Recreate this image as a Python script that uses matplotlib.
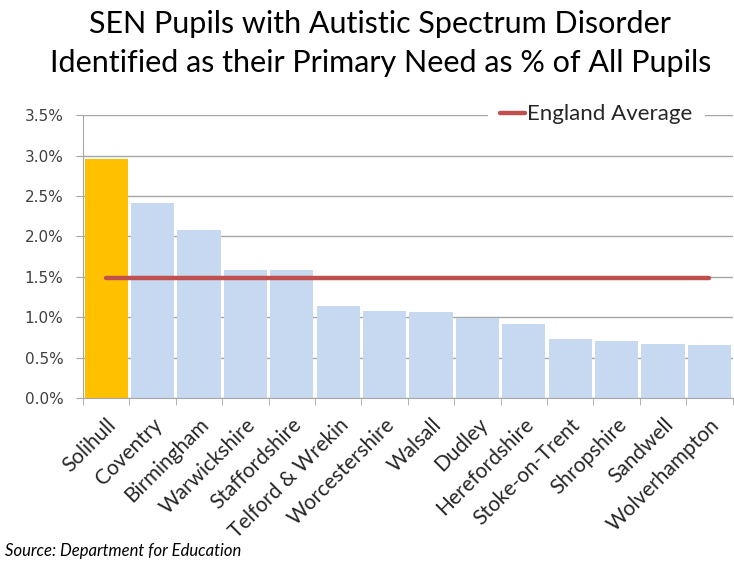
import numpy as np
import matplotlib.pyplot as plt
from matplotlib.ticker import FuncFormatter, FixedLocator

authorities = ['Solihull', 'Coventry', 'Birmingham', 'Warwickshire', 'Staffordshire',
               'Telford & Wrekin', 'Worcestershire', 'Walsall', 'Dudley', 'Herefordshire',
               'Stoke-on-Trent', 'Shropshire', 'Sandwell', 'Wolverhampton']
asd_pct = [2.96, 2.41, 2.08, 1.58, 1.58, 1.14, 1.08, 1.06, 0.99, 0.92, 0.73, 0.71, 0.67, 0.65]
england_avg = 1.48

bar_colors = ['#FFC000'] + ['#C6D9F1'] * (len(authorities) - 1)

fig = plt.figure(figsize=(7.34, 5.62), dpi=100)
ax = fig.add_axes([0.113, 0.292, 0.885, 0.503])

x = np.arange(len(authorities))
ax.bar(x, asd_pct, width=0.93, color=bar_colors, zorder=2)
ax.plot(x, [england_avg] * len(x), color='#C0504D', lw=3.2, solid_capstyle='round',
        label='England Average', zorder=3)

ax.set_xlim(-0.5, len(x) - 0.5)
ax.set_ylim(0, 3.5)
ax.set_yticks(np.arange(0, 3.51, 0.5))
ax.yaxis.set_major_formatter(FuncFormatter(lambda v, p: f'{v:.1f}%'))
ax.grid(axis='y', color='#A6A6A6', lw=1, zorder=0)

ax.set_xticks(x)
ax.set_xticklabels(authorities, rotation=45, ha='right', rotation_mode='anchor',
                   fontsize=15, family='Lato', color='#262626')
ax.tick_params(axis='x', length=0, pad=12)
ax.xaxis.set_minor_locator(FixedLocator(np.arange(-0.5, len(x), 1)))
ax.tick_params(axis='x', which='minor', length=5, color='#A6A6A6')
ax.tick_params(axis='y', length=5, pad=9, color='#A6A6A6', labelsize=11, labelcolor='#404040')

for s in ['top', 'right']:
    ax.spines[s].set_visible(False)
for s in ['left', 'bottom']:
    ax.spines[s].set_color('#A6A6A6')

leg = ax.legend(loc='center', bbox_to_anchor=(0.79, 1.003), frameon=True,
                fancybox=False, edgecolor='white', framealpha=1, handlelength=1.1,
                handletextpad=0.1, borderpad=0.3, borderaxespad=0,
                prop={'family': 'Lato', 'size': 16})
leg.get_frame().set_linewidth(8)
for t in leg.get_texts():
    t.set_color('#262626')

fig.text(0.518, 0.958, 'SEN Pupils with Autistic Spectrum Disorder', ha='center', va='center',
         fontsize=22, family='Lato')
fig.text(0.518, 0.888, 'Identified as their Primary Need as % of All Pupils', ha='center',
         va='center', fontsize=22, family='Lato')
fig.text(0.007, 0.02, 'Source: Department for Education', ha='left', va='center',
         fontsize=12, style='italic', family='Lato')

fig.savefig('out.png', dpi=100)
